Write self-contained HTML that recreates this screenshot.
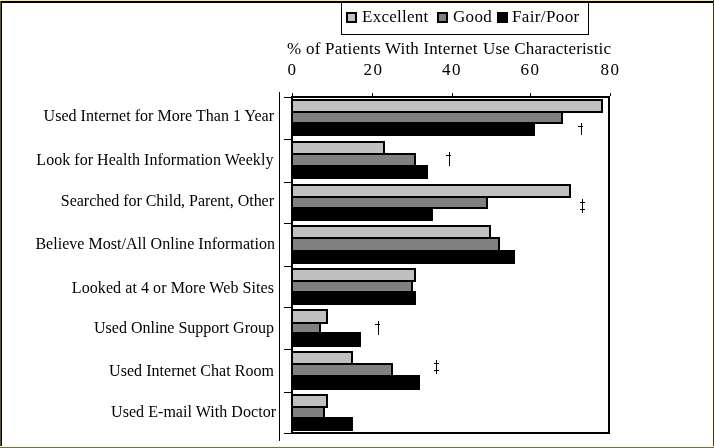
<!DOCTYPE html>
<html><head><meta charset="utf-8"><style>html,body{margin:0;padding:0;background:#fff;width:714px;height:448px;overflow:hidden}svg{display:block;will-change:transform}</style></head>
<body><svg width="714" height="448" viewBox="0 0 714 448"><g shape-rendering="crispEdges"><rect x="0" y="0" width="714" height="448" fill="#fff"/><rect x="0" y="0" width="714" height="1" fill="#efe6bd"/><rect x="0" y="1" width="714" height="2" fill="#000"/><rect x="0" y="1" width="1" height="447" fill="#5b5437"/><rect x="1" y="1" width="1" height="447" fill="#000"/><rect x="712" y="3" width="1" height="443" fill="#fdfdea"/><rect x="713" y="0" width="1" height="448" fill="#423822"/><rect x="0" y="446" width="714" height="1" fill="#fbf9dc"/><rect x="0" y="447" width="714" height="1" fill="#7a6f3a"/><rect x="341" y="1" width="1" height="34" fill="#000"/><rect x="588" y="1" width="1" height="34" fill="#000"/><rect x="341" y="34" width="248" height="1" fill="#000"/><rect x="346" y="12" width="11" height="11" fill="#000"/><rect x="348" y="14" width="7" height="7" fill="#c0c0c0"/><rect x="437" y="12" width="11" height="11" fill="#000"/><rect x="439" y="14" width="7" height="7" fill="#808080"/><rect x="497" y="12" width="11" height="11" fill="#000"/><rect x="499" y="14" width="7" height="7" fill="#000"/><rect x="279" y="92" width="1" height="349" fill="#000"/><rect x="291" y="99" width="312" height="14" fill="#000"/><rect x="293" y="101" width="308" height="10" fill="#c0c0c0"/><rect x="291" y="111" width="272" height="13" fill="#000"/><rect x="293" y="113" width="268" height="9" fill="#808080"/><rect x="291" y="122" width="244" height="14" fill="#000"/><rect x="291" y="141" width="94" height="14" fill="#000"/><rect x="293" y="143" width="90" height="10" fill="#c0c0c0"/><rect x="291" y="153" width="125" height="14" fill="#000"/><rect x="293" y="155" width="121" height="10" fill="#808080"/><rect x="291" y="165" width="137" height="14" fill="#000"/><rect x="291" y="184" width="280" height="14" fill="#000"/><rect x="293" y="186" width="276" height="10" fill="#c0c0c0"/><rect x="291" y="196" width="197" height="13" fill="#000"/><rect x="293" y="198" width="193" height="9" fill="#808080"/><rect x="291" y="207" width="142" height="14" fill="#000"/><rect x="291" y="225" width="200" height="14" fill="#000"/><rect x="293" y="227" width="196" height="10" fill="#c0c0c0"/><rect x="291" y="237" width="209" height="15" fill="#000"/><rect x="293" y="239" width="205" height="11" fill="#808080"/><rect x="291" y="250" width="224" height="14" fill="#000"/><rect x="291" y="268" width="125" height="14" fill="#000"/><rect x="293" y="270" width="121" height="10" fill="#c0c0c0"/><rect x="291" y="280" width="122" height="13" fill="#000"/><rect x="293" y="282" width="118" height="9" fill="#808080"/><rect x="291" y="291" width="125" height="14" fill="#000"/><rect x="291" y="309" width="37" height="15" fill="#000"/><rect x="293" y="311" width="33" height="11" fill="#c0c0c0"/><rect x="291" y="322" width="30" height="12" fill="#000"/><rect x="293" y="324" width="26" height="8" fill="#808080"/><rect x="291" y="332" width="70" height="15" fill="#000"/><rect x="291" y="351" width="62" height="14" fill="#000"/><rect x="293" y="353" width="58" height="10" fill="#c0c0c0"/><rect x="291" y="363" width="102" height="14" fill="#000"/><rect x="293" y="365" width="98" height="10" fill="#808080"/><rect x="291" y="375" width="129" height="15" fill="#000"/><rect x="291" y="394" width="37" height="14" fill="#000"/><rect x="293" y="396" width="33" height="10" fill="#c0c0c0"/><rect x="291" y="406" width="34" height="13" fill="#000"/><rect x="293" y="408" width="30" height="9" fill="#808080"/><rect x="291" y="417" width="62" height="14" fill="#000"/><rect x="291" y="96" width="319" height="2" fill="#000"/><rect x="291" y="432" width="319" height="2" fill="#000"/><rect x="291" y="96" width="2" height="338" fill="#000"/><rect x="608" y="96" width="2" height="338" fill="#000"/><rect x="284" y="139" width="7" height="1" fill="#000"/><rect x="284" y="182" width="7" height="1" fill="#000"/><rect x="284" y="223" width="7" height="1" fill="#000"/><rect x="284" y="266" width="7" height="1" fill="#000"/><rect x="284" y="307" width="7" height="1" fill="#000"/><rect x="284" y="349" width="7" height="1" fill="#000"/><rect x="284" y="392" width="7" height="1" fill="#000"/><rect x="284" y="97" width="7" height="1" fill="#000"/><rect x="284" y="433" width="7" height="1" fill="#000"/><rect x="292" y="93" width="1" height="3" fill="#000"/><rect x="372" y="93" width="1" height="3" fill="#000"/><rect x="452" y="93" width="1" height="3" fill="#000"/><rect x="530" y="93" width="1" height="3" fill="#000"/><rect x="610" y="93" width="1" height="3" fill="#000"/><rect x="581" y="123" width="1" height="12" fill="#000"/><rect x="578" y="126" width="5" height="1" fill="#000"/><rect x="449" y="152" width="1" height="14" fill="#000"/><rect x="446" y="155" width="5" height="1" fill="#000"/><rect x="378" y="321" width="1" height="14" fill="#000"/><rect x="375" y="324" width="5" height="1" fill="#000"/><rect x="582" y="199" width="1" height="14" fill="#000"/><rect x="580" y="202" width="5" height="1" fill="#000"/><rect x="580" y="209" width="5" height="1" fill="#000"/><rect x="436" y="360" width="1" height="14" fill="#000"/><rect x="434" y="363" width="5" height="1" fill="#000"/><rect x="434" y="370" width="5" height="1" fill="#000"/></g><g fill="#000"><text x="43.58" y="121" font-size="16" font-family="Liberation Serif" textLength="230.42" lengthAdjust="spacing">Used Internet for More Than 1 Year</text><text x="36.31" y="165" font-size="16" font-family="Liberation Serif" textLength="237.09" lengthAdjust="spacing">Look for Health Information Weekly</text><text x="60.84" y="206" font-size="16" font-family="Liberation Serif" textLength="213.16" lengthAdjust="spacing">Searched for Child, Parent, Other</text><text x="35.38" y="249" font-size="16" font-family="Liberation Serif" textLength="239.62" lengthAdjust="spacing">Believe Most/All Online Information</text><text x="71.84" y="293" font-size="16" font-family="Liberation Serif" textLength="202.16" lengthAdjust="spacing">Looked at 4 or More Web Sites</text><text x="94.02" y="333" font-size="16" font-family="Liberation Serif" textLength="179.98" lengthAdjust="spacing">Used Online Support Group</text><text x="109.03" y="376" font-size="16" font-family="Liberation Serif" textLength="164.97" lengthAdjust="spacing">Used Internet Chat Room</text><text x="111.08" y="417" font-size="16" font-family="Liberation Serif" textLength="164.92" lengthAdjust="spacing">Used E-mail With Doctor</text><text x="287" y="54" font-size="17" font-family="Liberation Serif" textLength="93.7" lengthAdjust="spacing">% of Patients</text><text x="385" y="54" font-size="17" font-family="Liberation Serif" textLength="92.4" lengthAdjust="spacing">With Internet</text><text x="483" y="54" font-size="17" font-family="Liberation Serif" textLength="128" lengthAdjust="spacing">Use Characteristic</text><text x="287.5" y="75" font-size="17" font-family="Liberation Serif" textLength="9.5" lengthAdjust="spacing">0</text><text x="363.5" y="75" font-size="17" font-family="Liberation Serif" textLength="18.6" lengthAdjust="spacing">20</text><text x="442" y="75" font-size="17" font-family="Liberation Serif" textLength="18.6" lengthAdjust="spacing">40</text><text x="520.5" y="75" font-size="17" font-family="Liberation Serif" textLength="18.6" lengthAdjust="spacing">60</text><text x="600.5" y="75" font-size="17" font-family="Liberation Serif" textLength="18.6" lengthAdjust="spacing">80</text><text x="362" y="22" font-size="17" font-family="Liberation Serif" textLength="66.2" lengthAdjust="spacing">Excellent</text><text x="453" y="22" font-size="17" font-family="Liberation Serif" textLength="38.8" lengthAdjust="spacing">Good</text><text x="512" y="22" font-size="17" font-family="Liberation Serif" textLength="67.2" lengthAdjust="spacing">Fair/Poor</text></g></svg></body></html>
